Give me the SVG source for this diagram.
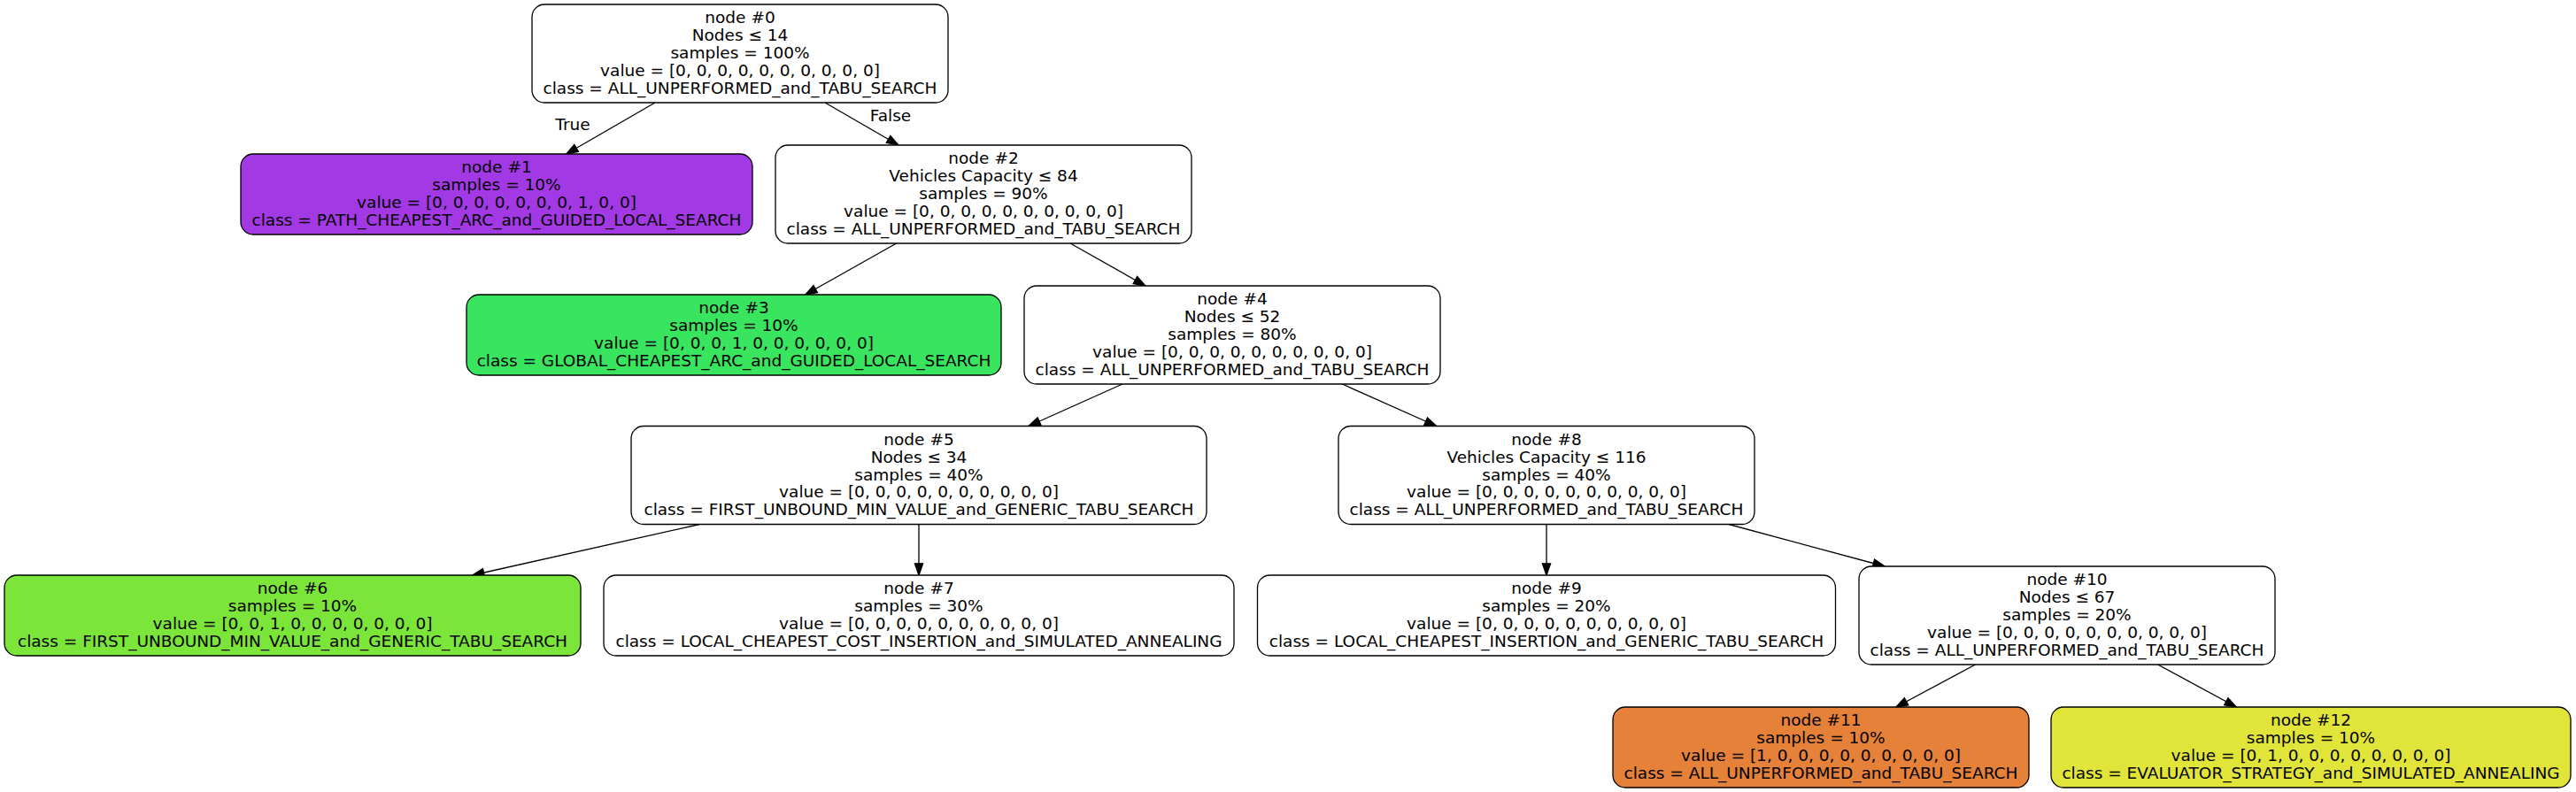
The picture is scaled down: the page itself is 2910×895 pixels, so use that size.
<svg xmlns="http://www.w3.org/2000/svg" width="2910" height="895" viewBox="0 0 2910 895">
<style>
.n rect{stroke:#000;stroke-width:1.32}
text{font-family:"DejaVu Sans","Liberation Sans",sans-serif;font-size:18.5px;text-anchor:middle;fill:#000}
.e line{stroke:#000;stroke-width:1.32;fill:none}
</style>
<defs>
<marker id="ah" markerUnits="userSpaceOnUse" viewBox="-1 -6 16 12" markerWidth="16" markerHeight="12" refX="13.2" refY="0" orient="auto">
<path d="M0,-4.6L13.2,0L0,4.6z" fill="#000" stroke="#000" stroke-width="1.32"/>
</marker>
</defs>
<rect width="2910" height="895" fill="#fff"/>
<g id="edges" class="e">
<line x1="740" y1="116" x2="639.7" y2="174" marker-end="url(#ah)"/>
<line x1="932" y1="116" x2="1015" y2="164" marker-end="url(#ah)"/>
<line x1="1012.6" y1="275" x2="909.7" y2="333" marker-end="url(#ah)"/>
<line x1="1209.1" y1="275" x2="1293.9" y2="323" marker-end="url(#ah)"/>
<line x1="1268" y1="434" x2="1162" y2="481.5" marker-end="url(#ah)"/>
<line x1="1516.3" y1="434" x2="1622.7" y2="481.5" marker-end="url(#ah)"/>
<line x1="790.3" y1="592.5" x2="533.6" y2="650" marker-end="url(#ah)"/>
<line x1="1038" y1="592.5" x2="1038" y2="650" marker-end="url(#ah)"/>
<line x1="1747" y1="592.5" x2="1747" y2="650" marker-end="url(#ah)"/>
<line x1="1952.9" y1="592.5" x2="2129.1" y2="640" marker-end="url(#ah)"/>
<line x1="2231.5" y1="751" x2="2141.9" y2="799" marker-end="url(#ah)"/>
<line x1="2437.6" y1="751" x2="2526.4" y2="799" marker-end="url(#ah)"/>
<text x="647" y="146.5">True</text>
<text x="1006" y="136.5">False</text>
</g>
<g id="node0" class="n">
<rect x="601" y="5" width="470" height="111" rx="14" fill="#fff"/>
<text x="836" y="26.4">node #0</text>
<text x="836" y="46.2">Nodes ≤ 14</text>
<text x="836" y="66">samples = 100%</text>
<text x="836" y="85.8">value = [0, 0, 0, 0, 0, 0, 0, 0, 0, 0]</text>
<text x="836" y="105.6">class = ALL_UNPERFORMED_and_TABU_SEARCH</text>
</g>
<g id="node1" class="n">
<rect x="272" y="174" width="578" height="91" rx="14" fill="#a339e5"/>
<text x="561" y="195.3">node #1</text>
<text x="561" y="215.1">samples = 10%</text>
<text x="561" y="234.9">value = [0, 0, 0, 0, 0, 0, 0, 1, 0, 0]</text>
<text x="561" y="254.7">class = PATH_CHEAPEST_ARC_and_GUIDED_LOCAL_SEARCH</text>
</g>
<g id="node2" class="n">
<rect x="876" y="164" width="470" height="111" rx="14" fill="#fff"/>
<text x="1111" y="185.4">node #2</text>
<text x="1111" y="205.2">Vehicles Capacity ≤ 84</text>
<text x="1111" y="225">samples = 90%</text>
<text x="1111" y="244.8">value = [0, 0, 0, 0, 0, 0, 0, 0, 0, 0]</text>
<text x="1111" y="264.6">class = ALL_UNPERFORMED_and_TABU_SEARCH</text>
</g>
<g id="node3" class="n">
<rect x="527" y="333" width="604" height="91" rx="14" fill="#39e55e"/>
<text x="829" y="354.3">node #3</text>
<text x="829" y="374.1">samples = 10%</text>
<text x="829" y="393.9">value = [0, 0, 0, 1, 0, 0, 0, 0, 0, 0]</text>
<text x="829" y="413.7">class = GLOBAL_CHEAPEST_ARC_and_GUIDED_LOCAL_SEARCH</text>
</g>
<g id="node4" class="n">
<rect x="1157" y="323" width="470" height="111" rx="14" fill="#fff"/>
<text x="1392" y="344.4">node #4</text>
<text x="1392" y="364.2">Nodes ≤ 52</text>
<text x="1392" y="384">samples = 80%</text>
<text x="1392" y="403.8">value = [0, 0, 0, 0, 0, 0, 0, 0, 0, 0]</text>
<text x="1392" y="423.6">class = ALL_UNPERFORMED_and_TABU_SEARCH</text>
</g>
<g id="node5" class="n">
<rect x="713" y="481.5" width="650" height="111" rx="14" fill="#fff"/>
<text x="1038" y="502.9">node #5</text>
<text x="1038" y="522.7">Nodes ≤ 34</text>
<text x="1038" y="542.5">samples = 40%</text>
<text x="1038" y="562.3">value = [0, 0, 0, 0, 0, 0, 0, 0, 0, 0]</text>
<text x="1038" y="582.1">class = FIRST_UNBOUND_MIN_VALUE_and_GENERIC_TABU_SEARCH</text>
</g>
<g id="node6" class="n">
<rect x="5" y="650" width="651" height="91" rx="14" fill="#7be539"/>
<text x="330.5" y="671.3">node #6</text>
<text x="330.5" y="691.1">samples = 10%</text>
<text x="330.5" y="710.9">value = [0, 0, 1, 0, 0, 0, 0, 0, 0, 0]</text>
<text x="330.5" y="730.7">class = FIRST_UNBOUND_MIN_VALUE_and_GENERIC_TABU_SEARCH</text>
</g>
<g id="node7" class="n">
<rect x="682" y="650" width="712" height="91" rx="14" fill="#fff"/>
<text x="1038" y="671.3">node #7</text>
<text x="1038" y="691.1">samples = 30%</text>
<text x="1038" y="710.9">value = [0, 0, 0, 0, 0, 0, 0, 0, 0, 0]</text>
<text x="1038" y="730.7">class = LOCAL_CHEAPEST_COST_INSERTION_and_SIMULATED_ANNEALING</text>
</g>
<g id="node8" class="n">
<rect x="1512" y="481.5" width="470" height="111" rx="14" fill="#fff"/>
<text x="1747" y="502.9">node #8</text>
<text x="1747" y="522.7">Vehicles Capacity ≤ 116</text>
<text x="1747" y="542.5">samples = 40%</text>
<text x="1747" y="562.3">value = [0, 0, 0, 0, 0, 0, 0, 0, 0, 0]</text>
<text x="1747" y="582.1">class = ALL_UNPERFORMED_and_TABU_SEARCH</text>
</g>
<g id="node9" class="n">
<rect x="1420.5" y="650" width="653" height="91" rx="14" fill="#fff"/>
<text x="1747" y="671.3">node #9</text>
<text x="1747" y="691.1">samples = 20%</text>
<text x="1747" y="710.9">value = [0, 0, 0, 0, 0, 0, 0, 0, 0, 0]</text>
<text x="1747" y="730.7">class = LOCAL_CHEAPEST_INSERTION_and_GENERIC_TABU_SEARCH</text>
</g>
<g id="node10" class="n">
<rect x="2100" y="640" width="470" height="111" rx="14" fill="#fff"/>
<text x="2335" y="661.4">node #10</text>
<text x="2335" y="681.2">Nodes ≤ 67</text>
<text x="2335" y="701">samples = 20%</text>
<text x="2335" y="720.8">value = [0, 0, 0, 0, 0, 0, 0, 0, 0, 0]</text>
<text x="2335" y="740.6">class = ALL_UNPERFORMED_and_TABU_SEARCH</text>
</g>
<g id="node11" class="n">
<rect x="1822" y="799" width="470" height="91" rx="14" fill="#e58139"/>
<text x="2057" y="820.3">node #11</text>
<text x="2057" y="840.1">samples = 10%</text>
<text x="2057" y="859.9">value = [1, 0, 0, 0, 0, 0, 0, 0, 0, 0]</text>
<text x="2057" y="879.7">class = ALL_UNPERFORMED_and_TABU_SEARCH</text>
</g>
<g id="node12" class="n">
<rect x="2317" y="799" width="587" height="91" rx="14" fill="#e2e539"/>
<text x="2610.5" y="820.3">node #12</text>
<text x="2610.5" y="840.1">samples = 10%</text>
<text x="2610.5" y="859.9">value = [0, 1, 0, 0, 0, 0, 0, 0, 0, 0]</text>
<text x="2610.5" y="879.7">class = EVALUATOR_STRATEGY_and_SIMULATED_ANNEALING</text>
</g>
</svg>
